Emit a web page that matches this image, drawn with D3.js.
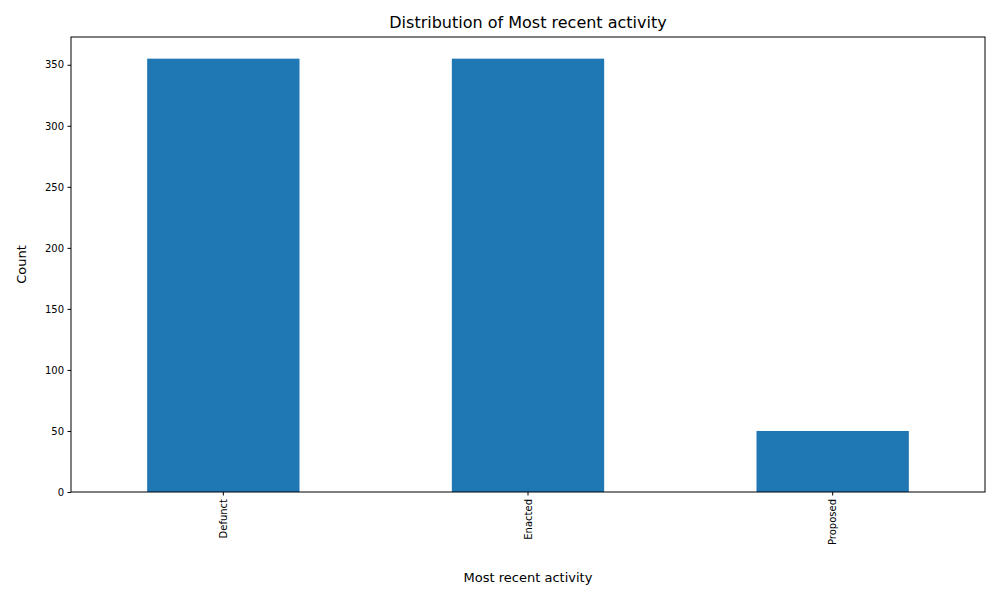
<!DOCTYPE html>
<html>
<head>
<meta charset="UTF-8" />
<style>
  body { margin: 0; background: #fff; }
  text { font-family: "DejaVu Sans", sans-serif; }
</style>
</head>
<body>
<script src="https://cdn.jsdelivr.net/npm/d3@7"></script>
<div id="app"></div>
<script>
// data
const categories = ["Defunct", "Enacted", "Proposed"];
const counts = [355, 355, 50];
const yTicks = [0, 50, 100, 150, 200, 250, 300, 350];

const w = 1000, h = 600;
const m = { left: 71, right: 15, top: 37, bottom: 108 };
const iw = w - m.left - m.right, ih = h - m.top - m.bottom;

const svg = d3.select("#app").append("svg")
  .attr("width", w).attr("height", h);

const g = svg.append("g").attr("transform", `translate(${m.left},${m.top})`);

const x = d3.scaleBand().domain(categories).range([0, iw]).paddingInner(0.5).paddingOuter(0.25);
const y = d3.scaleLinear().domain([0, d3.max(counts) * 1.05]).range([ih, 0]);

g.selectAll("rect")
  .data(categories)
  .enter()
  .append("rect")
  .attr("x", d => x(d))
  .attr("y", (d, i) => y(counts[i]))
  .attr("width", x.bandwidth())
  .attr("height", (d, i) => ih - y(counts[i]))
  .attr("fill", "#1f77b4");

// axes
const yAxis = g.append("g")
  .call(d3.axisLeft(y).tickValues(yTicks).tickSize(3.5).tickPadding(3.5));
const xAxis = g.append("g")
  .attr("transform", `translate(0,${ih})`)
  .call(d3.axisBottom(x).tickSize(3.5).tickPadding(3.5));

[xAxis, yAxis].forEach(a => {
  a.select(".domain").remove();
  a.selectAll("text").attr("font-size", 10 * 1.39 * 0.72 + "px").attr("fill", "#000")
    .style("font-family", "DejaVu Sans");
  a.selectAll("line").attr("stroke", "#000");
});
xAxis.selectAll("text")
  .attr("transform", "rotate(-90)")
  .attr("text-anchor", "end")
  .attr("x", -7).attr("y", 0).attr("dy", "0.35em");

g.append("rect")
  .attr("width", iw).attr("height", ih)
  .attr("fill", "none").attr("stroke", "#000").attr("stroke-width", 1);

// labels
svg.append("text")
  .attr("x", m.left + iw / 2).attr("y", 28)
  .attr("text-anchor", "middle").attr("font-size", "16px")
  .text("Distribution of Most recent activity");

svg.append("text")
  .attr("x", m.left + iw / 2).attr("y", 582)
  .attr("text-anchor", "middle").attr("font-size", "13px")
  .text("Most recent activity");

svg.append("text")
  .attr("transform", `translate(26,${m.top + ih / 2}) rotate(-90)`)
  .attr("text-anchor", "middle").attr("font-size", "13px")
  .text("Count");
</script>
</body>
</html>
